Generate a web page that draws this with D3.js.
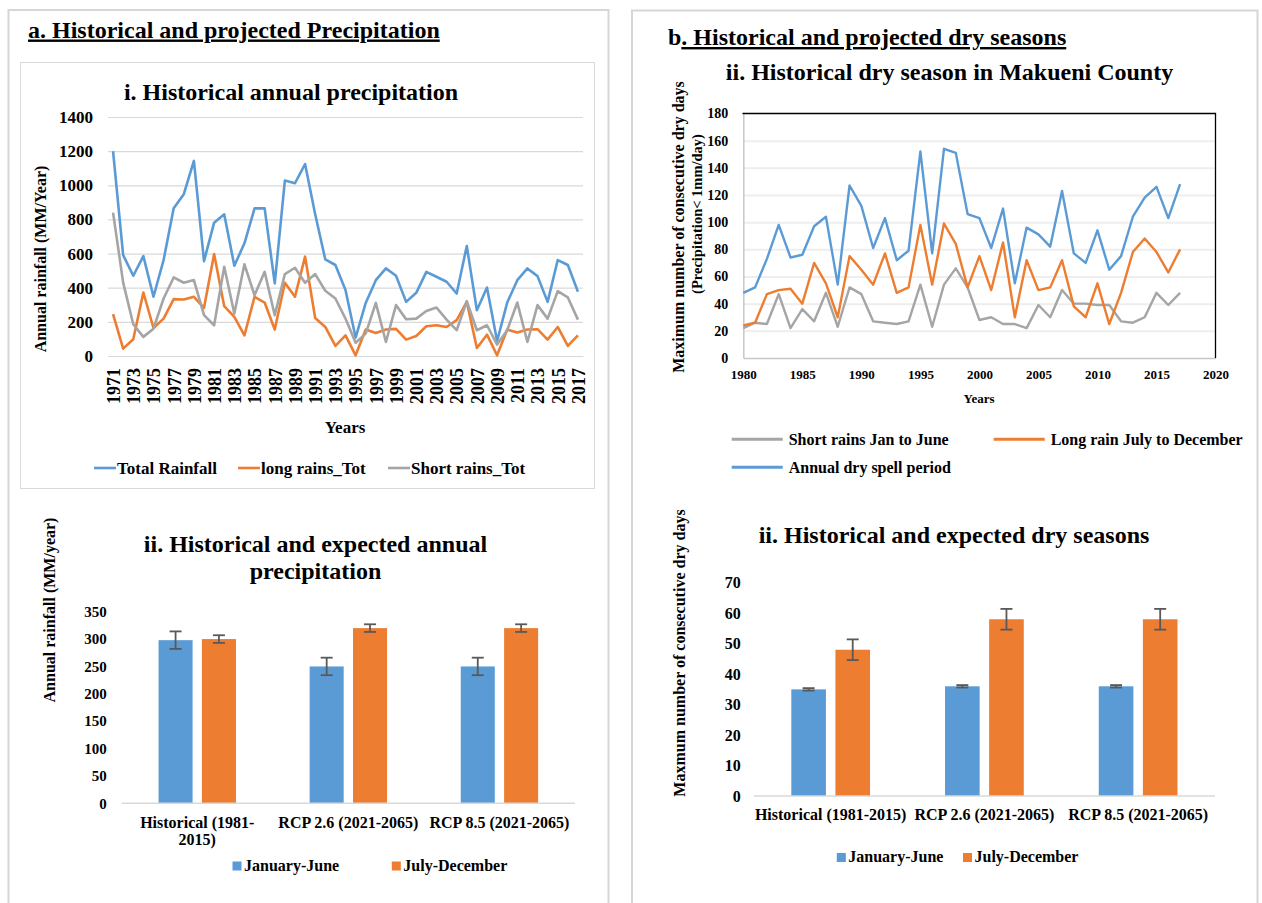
<!DOCTYPE html>
<html>
<head>
<meta charset="utf-8">
<script src="https://cdn.jsdelivr.net/npm/d3@7"></script>
<style>
  body { margin: 0; background: #fff; }
  svg text { font-family: "Liberation Serif", "Times New Roman", serif; font-weight: bold; fill: #000; }
</style>
</head>
<body>
<svg id="fig" width="1262" height="903"></svg>
<script>
// ---------- data: historical annual precipitation (mm/year) ----------
const rainYears = [1971,1972,1973,1974,1975,1976,1977,1978,1979,1980,
  1981,1982,1983,1984,1985,1986,1987,1988,1989,1990,
  1991,1992,1993,1994,1995,1996,1997,1998,1999,2000,
  2001,2002,2003,2004,2005,2006,2007,2008,2009,2010,
  2011,2012,2013,2014,2015,2016,2017];
const rainYearLabels = [1971,1973,1975,1977,1979,1981,1983,1985,1987,1989,1991,1993,
  1995,1997,1999,2001,2003,2005,2007,2009,2011,2013,2015,2017];
const rainTicks = [0,200,400,600,800,1000,1200,1400];
const totalRainfall = [1200,591,470,585,347,562,865,948,1143,556,
  781,830,529,660,865,865,425,1028,1012,1124,
  830,566,533,386,108,311,444,513,470,317,
  370,493,464,435,366,644,268,401,88,313,
  444,513,468,317,562,533,376];
const longRainsTot = [245,43,98,372,164,219,333,331,347,282,
  597,292,229,121,347,313,155,429,347,582,
  223,170,59,121,4,155,135,155,159,96,
  117,174,180,170,210,317,47,125,4,155,
  137,155,157,96,170,59,121];
const shortRainsTot = [840,430,186,112,160,337,460,429,445,239,
  180,523,249,537,356,493,239,480,517,429,
  480,382,337,219,78,131,311,82,298,215,
  219,264,284,213,151,321,151,180,67,151,
  313,82,298,219,380,343,213];

// ---------- data: historical dry season, Makueni County (days) ----------
const dryYears = [1980,1981,1982,1983,1984,1985,1986,1987,1988,1989,
  1990,1991,1992,1993,1994,1995,1996,1997,1998,1999,
  2000,2001,2002,2003,2004,2005,2006,2007,2008,2009,
  2010,2011,2012,2013,2014,2015,2016,2017];
const dryYearTicks = [1980,1985,1990,1995,2000,2005,2010,2015,2020];
const dryTicks = [0,20,40,60,80,100,120,140,160,180];
const shortRainsDry = [22,26,25,47,22,36,27,48,23,52,
  47,27,26,25,27,54,23,54,66,52,
  28,30,25,25,22,39,30,50,40,40,
  39,39,27,26,30,48,39,48];
const longRainDry = [24,26,47,50,51,40,70,55,30,75,
  65,54,77,48,52,98,54,99,84,52,
  75,50,85,30,72,50,52,72,38,30,
  55,25,48,78,88,78,63,80];
const annualDrySpell = [48,52,73,98,74,76,97,104,54,127,
  112,81,103,72,79,152,77,154,151,106,
  103,81,110,55,96,91,82,123,77,70,
  94,65,75,104,118,126,103,128];

// ---------- data: historical vs projected scenarios ----------
const scenarios = ["Historical (1981-2015)", "RCP 2.6 (2021-2065)", "RCP 8.5 (2021-2065)"];
const seasons = ["January-June", "July-December"];
const rainBarTicks = [0,50,100,150,200,250,300,350];
const rainJanJun = [298, 250, 250];
const rainJanJunErr = [16, 16, 16];
const rainJulDec = [300, 320, 320];
const rainJulDecErr = [7, 7, 7];
const dryBarTicks = [0,10,20,30,40,50,60,70];
const dryJanJun = [35, 36, 36];
const dryJanJunErr = [0.4, 0.4, 0.4];
const dryJulDec = [48, 58, 58];
const dryJulDecErr = [3.4, 3.4, 3.4];

const BLUE = "#5B9BD5", ORANGE = "#ED7D31", GRAY = "#A5A5A5", ERR = "#595959";

const svg = d3.select("#fig");
svg.append("rect").attr("width", 1262).attr("height", 903).attr("fill", "#fff");

// ---------- panel frames and headers ----------
svg.append("rect").attr("x", 8.5).attr("y", 10).attr("width", 600).attr("height", 930)
  .attr("fill", "none").attr("stroke", "#d6d6d6").attr("stroke-width", 2);
svg.append("rect").attr("x", 632).attr("y", 10.5).attr("width", 625.5).attr("height", 930)
  .attr("fill", "none").attr("stroke", "#d6d6d6").attr("stroke-width", 2);
svg.append("rect").attr("x", 20.5).attr("y", 62.5).attr("width", 574).attr("height", 426)
  .attr("fill", "none").attr("stroke", "#d9d9d9").attr("stroke-width", 1);

svg.append("text").attr("x", 28).attr("y", 37.5).attr("font-size", 24)
  .attr("text-decoration", "underline").text("a. Historical and projected Precipitation");
const hb = svg.append("text").attr("x", 668).attr("y", 45).attr("font-size", 24);
hb.append("tspan").text("b");
hb.append("tspan").attr("text-decoration", "underline").text(". Historical and projected dry seasons");

// ---------- i. Historical annual precipitation ----------
{
  const x = d3.scalePoint().domain(rainYears).range([108, 583]).padding(0.5);
  const y = d3.scaleLinear().domain([0, 1400]).range([356, 117]);
  const g = svg.append("g");

  svg.append("text").attr("x", 291).attr("y", 100).attr("font-size", 24)
    .attr("text-anchor", "middle").text("i. Historical annual precipitation");

  const ya = g.append("g").attr("transform", "translate(108,0)")
    .call(d3.axisLeft(y).tickValues(rainTicks).tickSize(-475).tickPadding(15).tickFormat(d3.format("d")));
  ya.select(".domain").remove();
  ya.selectAll("line").attr("stroke", "#d9d9d9").attr("stroke-width", 1.2);
  ya.selectAll("text").attr("font-size", 17).attr("font-family", null);

  const xa = g.append("g").attr("transform", "translate(0,356)")
    .call(d3.axisBottom(x).tickValues(rainYearLabels).tickSize(0).tickSizeOuter(0));
  xa.select(".domain").attr("stroke", "#d9d9d9").attr("stroke-width", 1.2);
  xa.selectAll("text").attr("font-size", 18).attr("font-family", null)
    .attr("transform", "rotate(-90)").attr("text-anchor", "end")
    .attr("x", -12).attr("y", 0).attr("dy", "0.35em");

  const series = [
    { name: "Total Rainfall", values: totalRainfall, color: BLUE },
    { name: "long rains_Tot", values: longRainsTot, color: ORANGE },
    { name: "Short rains_Tot", values: shortRainsTot, color: GRAY }
  ];
  const line = d3.line().x((d, i) => x(rainYears[i])).y(d => y(d));
  series.forEach(s => {
    g.append("path").datum(s.values).attr("d", line).attr("fill", "none")
      .attr("stroke", s.color).attr("stroke-width", 2.6).attr("stroke-linejoin", "round");
  });

  svg.append("text").attr("x", 345).attr("y", 433).attr("font-size", 17)
    .attr("text-anchor", "middle").text("Years");
  svg.append("text").attr("transform", "translate(40,259) rotate(-90)").attr("font-size", 16)
    .attr("text-anchor", "middle").attr("dy", "0.35em").text("Annual rainfall (MM/Year)");

  const legX = [94, 238, 388];
  series.forEach((s, i) => {
    svg.append("line").attr("x1", legX[i]).attr("x2", legX[i] + 22).attr("y1", 468).attr("y2", 468)
      .attr("stroke", s.color).attr("stroke-width", 2.6);
    svg.append("text").attr("x", legX[i] + 23).attr("y", 468).attr("dy", "0.35em")
      .attr("font-size", 17).text(s.name);
  });
}

// ---------- ii. Historical dry season in Makueni County ----------
{
  const x = d3.scaleLinear().domain([1980, 2020]).range([743.3, 1215.5]);
  const y = d3.scaleLinear().domain([0, 180]).range([358, 113.5]);
  const g = svg.append("g");

  svg.append("text").attr("x", 949.5).attr("y", 80).attr("font-size", 24)
    .attr("text-anchor", "middle").text("ii. Historical dry season in Makueni County");

  const grid = g.append("g").attr("transform", "translate(743.3,0)")
    .call(d3.axisLeft(y).tickValues(dryTicks.filter(d => d > 0 && d < 180)).tickSize(-472.2).tickFormat(""));
  grid.select(".domain").remove();
  grid.selectAll("line").attr("stroke", "#eeeeee").attr("stroke-width", 2);

  const ya = g.append("g").attr("transform", "translate(743.3,0)")
    .call(d3.axisLeft(y).tickValues(dryTicks).tickSize(0).tickPadding(15));
  ya.select(".domain").attr("stroke", "#c8c8c8").attr("stroke-width", 1.5);
  ya.selectAll("text").attr("font-size", 14).attr("font-family", null);

  const xa = g.append("g").attr("transform", "translate(0,358)")
    .call(d3.axisBottom(x).tickValues(dryYearTicks).tickSize(0).tickPadding(12).tickFormat(d3.format("d")));
  xa.select(".domain").attr("stroke", "#c8c8c8").attr("stroke-width", 1.5);
  xa.selectAll("text").attr("font-size", 13).attr("font-family", null);

  // plot frame (top and right)
  g.append("path").attr("d", `M742.5,${y(180)}H${x(2020)}V${y(0)}`)
    .attr("fill", "none").attr("stroke", "#000").attr("stroke-width", 1.3);

  const series = [
    { name: "Short rains Jan to June", values: shortRainsDry, color: GRAY },
    { name: "Long rain July to December", values: longRainDry, color: ORANGE },
    { name: "Annual dry spell period", values: annualDrySpell, color: BLUE }
  ];
  const line = d3.line().x((d, i) => x(dryYears[i])).y(d => y(d));
  series.forEach(s => {
    g.append("path").datum(s.values).attr("d", line).attr("fill", "none")
      .attr("stroke", s.color).attr("stroke-width", 2.4).attr("stroke-linejoin", "round");
  });

  svg.append("text").attr("x", 979).attr("y", 403).attr("font-size", 13)
    .attr("text-anchor", "middle").text("Years");
  svg.append("text").attr("transform", "translate(678,227) rotate(-90)").attr("font-size", 16)
    .attr("text-anchor", "middle").attr("dy", "0.35em").text("Maximum number of consecutive dry days");
  svg.append("text").attr("transform", "translate(697,214) rotate(-90)").attr("font-size", 14.5)
    .attr("text-anchor", "middle").attr("dy", "0.35em").text("(Precipitation< 1mm/day)");

  const legPos = [[731.7, 439.3], [993.7, 439.3], [731.7, 467.3]];
  series.forEach((s, i) => {
    const [lx, ly] = legPos[i];
    svg.append("line").attr("x1", lx).attr("x2", lx + 51).attr("y1", ly).attr("y2", ly)
      .attr("stroke", s.color).attr("stroke-width", 3);
    svg.append("text").attr("x", lx + 57).attr("y", ly).attr("dy", "0.35em")
      .attr("font-size", 16).text(s.name);
  });
}

// ---------- grouped bar chart with error bars ----------
function barChart(opt) {
  const g = svg.append("g");
  const x0 = d3.scaleBand().domain(scenarios).range(opt.xRange);
  const x1 = d3.scaleBand().domain(seasons).range([0, x0.bandwidth()])
    .paddingInner(0.215).paddingOuter(0.85);
  const y = d3.scaleLinear().domain(opt.yDomain).range(opt.yRange);
  const colors = { "January-June": BLUE, "July-December": ORANGE };

  opt.titleLines.forEach((t, i) => {
    svg.append("text").attr("x", opt.titleX).attr("y", opt.titleY + i * 27.5).attr("font-size", 24)
      .attr("text-anchor", "middle").text(t);
  });

  const ya = g.append("g").attr("transform", `translate(${opt.xRange[0]},0)`)
    .call(d3.axisLeft(y).tickValues(opt.ticks).tickSize(0).tickPadding(opt.tickPad));
  ya.select(".domain").remove();
  ya.selectAll("text").attr("font-size", opt.tickFont).attr("font-family", null);

  const rows = scenarios.map((c, i) => ({
    cat: c,
    vals: [
      { s: "January-June", v: opt.a[i], e: opt.aErr[i] },
      { s: "July-December", v: opt.b[i], e: opt.bErr[i] }
    ]
  }));

  const grp = g.selectAll(".grp").data(rows).join("g")
    .attr("transform", d => `translate(${x0(d.cat)},0)`);
  grp.selectAll("rect").data(d => d.vals).join("rect")
    .attr("x", d => x1(d.s)).attr("width", x1.bandwidth())
    .attr("y", d => y(d.v)).attr("height", d => y(0) - y(d.v))
    .attr("fill", d => colors[d.s]);

  const eb = grp.selectAll(".err").data(d => d.vals).join("g");
  eb.append("line")
    .attr("x1", d => x1(d.s) + x1.bandwidth() / 2).attr("x2", d => x1(d.s) + x1.bandwidth() / 2)
    .attr("y1", d => y(d.v + d.e)).attr("y2", d => y(d.v - d.e));
  [1, -1].forEach(sign => {
    eb.append("line")
      .attr("x1", d => x1(d.s) + x1.bandwidth() / 2 - 6).attr("x2", d => x1(d.s) + x1.bandwidth() / 2 + 6)
      .attr("y1", d => y(d.v + sign * d.e)).attr("y2", d => y(d.v + sign * d.e));
  });
  eb.selectAll("line").attr("stroke", ERR).attr("stroke-width", 1.8);

  g.append("line").attr("x1", opt.xRange[0]).attr("x2", opt.xRange[1])
    .attr("y1", y(0)).attr("y2", y(0)).attr("stroke", "#d9d9d9").attr("stroke-width", 1.5);

  scenarios.forEach(c => {
    const cx = x0(c) + x0.bandwidth() / 2;
    const lines = c.length > opt.wrapAt ? [c.slice(0, c.indexOf("-") + 1), c.slice(c.indexOf("-") + 1)] : [c];
    lines.forEach((t, i) => {
      svg.append("text").attr("x", cx).attr("y", opt.catY + i * 17).attr("font-size", 16)
        .attr("text-anchor", "middle").text(t);
    });
  });

  svg.append("text").attr("transform", `translate(${opt.yTitleX},${opt.yTitleY}) rotate(-90)`)
    .attr("font-size", 16).attr("text-anchor", "middle").attr("dy", "0.35em").text(opt.yTitle);

  seasons.forEach((s, i) => {
    const lx = opt.legX[i];
    svg.append("rect").attr("x", lx).attr("y", opt.legY - 9).attr("width", 9).attr("height", 9)
      .attr("fill", colors[s]);
    svg.append("text").attr("x", lx + 11.5).attr("y", opt.legY).attr("font-size", 16).text(s);
  });
}

barChart({
  xRange: [121.7, 575], yRange: [803.3, 611.7], yDomain: [0, 350], ticks: rainBarTicks,
  a: rainJanJun, aErr: rainJanJunErr, b: rainJulDec, bErr: rainJulDecErr,
  titleLines: ["ii. Historical and expected annual", "precipitation"], titleX: 315.5, titleY: 551.7,
  tickPad: 15, tickFont: 15, catY: 828, wrapAt: 20,
  yTitle: "Annual rainfall (MM/year)", yTitleX: 49.6, yTitleY: 610,
  legX: [232.5, 391.8], legY: 870.5
});

barChart({
  xRange: [753.8, 1215], yRange: [796, 582.7], yDomain: [0, 70], ticks: dryBarTicks,
  a: dryJanJun, aErr: dryJanJunErr, b: dryJulDec, bErr: dryJulDecErr,
  titleLines: ["ii. Historical and expected dry seasons"], titleX: 954, titleY: 543,
  tickPad: 13, tickFont: 16, catY: 820, wrapAt: 40,
  yTitle: "Maxmum number of consecutive dry days", yTitleX: 679.5, yTitleY: 653,
  legX: [836.8, 963], legY: 862
});
</script>
</body>
</html>
